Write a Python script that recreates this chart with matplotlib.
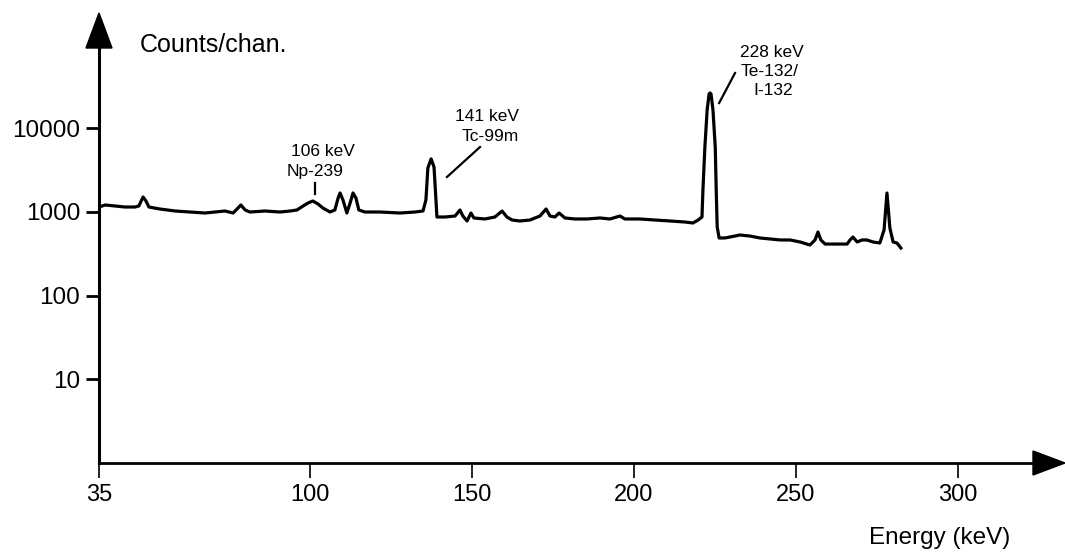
import matplotlib.pyplot as plt
from matplotlib.patches import Polygon

plt.rcParams['font.family'] = ['Liberation Sans', 'DejaVu Sans']

# spectrum (energy in keV on the drawn axis, counts per channel)
energy = [35.0, 36.9, 39.9, 43.0, 46.1, 47.3, 48.6, 49.5, 50.4, 53.8, 58.5, 63.1,
          67.7, 70.8, 73.9, 76.4, 77.6, 78.8, 80.1, 81.6, 86.2, 90.9, 94.0, 96.1,
          98.0, 99.5, 101.0, 102.6, 104.1, 106.3, 107.8, 108.8, 109.4, 110.3, 111.5,
          112.5, 113.4, 114.3, 115.2, 117.1, 121.7, 127.9, 132.5, 135.0, 135.9, 136.5,
          137.5, 138.4, 139.0, 139.3, 141.8, 144.9, 146.4, 147.3, 148.6, 149.8, 150.7,
          154.1, 157.2, 159.4, 160.9, 162.5, 164.9, 168.0, 171.1, 173.0, 174.2, 175.7,
          177.0, 178.8, 181.9, 185.6, 189.6, 192.7, 195.8, 197.3, 201.9, 206.6, 211.2,
          215.9, 218.3, 219.9, 221.1, 221.4, 222.0, 222.7, 223.3, 223.6, 223.9, 224.5,
          225.2, 225.5, 225.8, 226.4, 228.2, 231.3, 232.8, 235.9, 239.0, 242.1, 245.2,
          248.3, 251.4, 254.4, 256.0, 256.9, 257.8, 259.1, 262.2, 265.9, 266.8, 267.7,
          269.0, 270.5, 272.0, 273.9, 276.0, 277.3, 278.2, 279.1, 280.1, 281.3, 282.5]
counts = [1144, 1209, 1177, 1144, 1144, 1177, 1507, 1350, 1144, 1083, 1025, 997,
          970, 997, 1025, 970, 1083, 1209, 1054, 997, 1025, 997, 1025, 1054,
          1177, 1277, 1350, 1243, 1113, 997, 1054, 1466, 1682, 1388, 970,
          1277, 1682, 1466, 1054, 997, 997, 970, 997, 1025, 1388, 3346,
          4300, 3439, 1388, 869, 869, 893, 1054, 893, 779, 970, 846,
          823, 869, 1025, 869, 800, 779, 800, 893, 1083, 893, 869,
          970, 846, 823, 823, 846, 823, 893, 823, 823, 800, 779,
          757, 737, 800, 869, 1826, 5963, 16500, 25630, 26340, 25630, 16500,
          5963, 1826, 660, 488, 488, 515, 530, 515, 488, 475, 462,
          462, 437, 402, 462, 575, 462, 413, 413, 413, 462, 501,
          437, 462, 462, 437, 425, 608, 1682, 642, 437, 425, 370]

ytick_vals = [10, 100, 1000, 10000]
xtick_vals = [35, 100, 150, 200, 250, 300]

W, H = 1065, 556
fig = plt.figure(figsize=(W / 100, H / 100), dpi=100)
ax = fig.add_axes([99 / W, 93 / H, (1035 - 99) / W, (463 - 48) / H])

ax.plot(energy, counts, color='black', lw=2.3, solid_joinstyle='round')

ax.set_yscale('log')
ax.set_xlim(35, 35 + (1035 - 99) / 3.24)
ax.set_ylim(1, 10 ** ((463 - 48) / 83.7))

ax.set_yticks(ytick_vals, [str(v) for v in ytick_vals])
ax.set_xticks(xtick_vals, [str(v) for v in xtick_vals])
ax.minorticks_off()
ax.tick_params(axis='y', direction='out', length=9.5, width=2, pad=4, labelsize=17.5)
ax.tick_params(axis='x', direction='out', length=11, width=1.2, pad=4, labelsize=17)

for s in ['top', 'right']:
    ax.spines[s].set_visible(False)
ax.spines['left'].set_linewidth(2.2)
ax.spines['bottom'].set_linewidth(2.0)

# arrow heads on the axes
fig.add_artist(Polygon([(99 / W, 1 - 13 / H), (86 / W, 1 - 48 / H), (112 / W, 1 - 48 / H)],
                       closed=True, color='black', transform=fig.transFigure))
fig.add_artist(Polygon([(1065 / W, 1 - 463 / H), (1033 / W, 1 - 451 / H), (1033 / W, 1 - 475 / H)],
                       closed=True, color='black', transform=fig.transFigure))

fig.text(140 / W, 1 - 45 / H, 'Counts/chan.', fontsize=18, ha='left', va='center')
fig.text(940 / W, 1 - 538 / H, 'Energy (keV)', fontsize=17.5, ha='center', va='center')

# peak labels
lab = dict(fontsize=12.5, ha='center', va='center', clip_on=False)
ax.text(104.1, 5197, '106 keV', **lab)
ax.text(101.7, 2999, 'Np-239', **lab)
ax.plot([101.7, 101.7], [1637, 2213], color='black', lw=1.6)

ax.text(154.8, 13610, '141 keV', **lab)
ax.text(155.7, 7852, 'Tc-99m', **lab)
ax.plot([142.4, 152.6], [2612, 5960], color='black', lw=1.6)

ax.text(242.7, 81350, '228 keV', **lab)
ax.text(242.1, 48170, 'Te-132/', **lab)
ax.text(243.0, 28590, 'I-132', **lab)
ax.plot([226.4, 231.3], [20000, 45650], color='black', lw=1.6, clip_on=False)

fig.savefig('out.png', dpi=100)
